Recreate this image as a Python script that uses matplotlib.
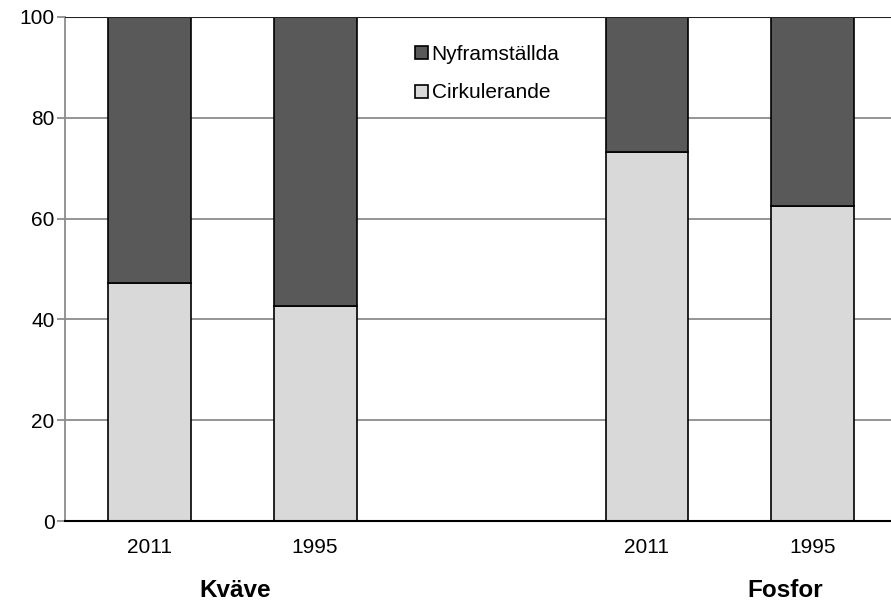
import numpy as np
import matplotlib.pyplot as plt

plt.rcParams['font.family'] = ['Liberation Sans', 'DejaVu Sans']

positions = [0, 1, 3, 4]
years = ['2011', '1995', '2011', '1995']
cirkulerande = [47.2, 42.7, 73.2, 62.5]
nyframstallda = [100 - v for v in cirkulerande]
groups = ['Kväve', 'Fosfor']
group_pos = [0.52, 3.83]

fig = plt.figure(figsize=(8.91, 6.04), dpi=100)
ax = fig.add_axes([0.073, 0.1374, 0.927, 0.8347])

ax.bar(positions, cirkulerande, width=0.5, color='#d9d9d9', edgecolor='black',
       linewidth=1.2, label='Cirkulerande', zorder=3)
ax.bar(positions, nyframstallda, width=0.5, bottom=cirkulerande, color='#595959',
       edgecolor='black', linewidth=1.2, label='Nyframställda', zorder=3)

ax.set_xlim(-0.506, 4.47)
ax.set_ylim(0, 100)
ax.set_yticks(range(0, 101, 20))
ax.yaxis.grid(True, color='#8c8c8c', linewidth=1.3, zorder=0)
ax.axhline(100, color='#222222', linewidth=1.5, zorder=4)
ax.set_xticks(positions)
ax.set_xticklabels(years, fontsize=15)
ax.tick_params(axis='x', length=0, pad=12)
ax.tick_params(axis='y', length=6, color='#8c8c8c', width=1.3, labelsize=15, pad=1.5)

for side in ['top', 'right']:
    ax.spines[side].set_visible(False)
ax.spines['left'].set_color('#8c8c8c')
ax.spines['left'].set_linewidth(1.3)
ax.spines['bottom'].set_color('black')
ax.spines['bottom'].set_linewidth(1.5)
ax.spines['bottom'].set_zorder(5)

for g, gp in zip(groups, group_pos):
    ax.text(gp, -0.137, g, transform=ax.get_xaxis_transform(), ha='center',
            va='center', fontsize=17.5, fontweight='bold')

handles, labels = ax.get_legend_handles_labels()
ax.legend(handles[::-1], labels[::-1], loc='upper left', bbox_to_anchor=(0.401, 0.982),
          frameon=False, fontsize=15, handlelength=0.6, handleheight=0.6,
          handletextpad=0.2, labelspacing=0.95)

fig.savefig('out.png', dpi=100)
